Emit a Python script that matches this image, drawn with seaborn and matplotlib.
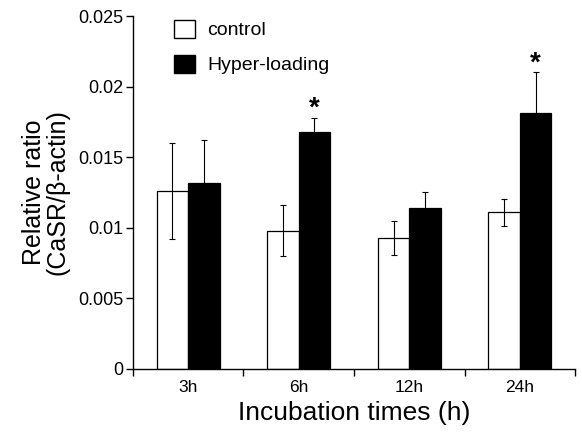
import numpy as np
import pandas as pd
import matplotlib
matplotlib.use("Agg")
import matplotlib.pyplot as plt
import seaborn as sns

# Relative CaSR expression normalised to beta-actin
times = ["3h", "6h", "12h", "24h"]
groups = ["control", "Hyper-loading"]
control_mean = [0.0126, 0.0098, 0.0093, 0.0111]
control_err = [0.0034, 0.0018, 0.0012, 0.00095]
hyper_mean = [0.0132, 0.0168, 0.0114, 0.0181]
hyper_err = [0.0030, 0.0010, 0.0011, 0.0029]
significant = [False, True, False, True]

y_ticks = [0, 0.005, 0.01, 0.015, 0.02, 0.025]
y_tick_labels = ["0", "0.005", "0.01", "0.015", "0.02", "0.025"]

sns.set_style("white")
plt.rcParams["font.family"] = ["Liberation Sans", "DejaVu Sans"]
plt.rcParams.update({"text.color": "black", "axes.labelcolor": "black",
                     "xtick.color": "black", "ytick.color": "black"})

df = pd.DataFrame({
    "time": times * 2,
    "group": [groups[0]] * 4 + [groups[1]] * 4,
    "value": control_mean + hyper_mean,
    "err": control_err + hyper_err,
})

fig = plt.figure(figsize=(5.82, 4.36), dpi=100)
ax = fig.add_axes([0.2285, 0.1537, 0.7595, 0.8096])

sns.barplot(data=df, x="time", y="value", hue="group", order=times,
            hue_order=groups, palette=["white", "black"], width=0.57,
            errorbar=None, edgecolor="black", linewidth=0.9, ax=ax,
            saturation=1)

# error bars placed on the bar centres drawn by seaborn
bars = [p for p in ax.patches if p.get_height() > 0]
bars = sorted(bars, key=lambda p: p.get_x())
for p in bars:
    cx = p.get_x() + p.get_width() / 2
    h = p.get_height()
    row = df[np.isclose(df["value"], h)].iloc[0]
    ax.errorbar(cx, h, yerr=row["err"], fmt="none", ecolor="black",
                elinewidth=0.8, capsize=2.5, capthick=0.8, zorder=3)
    if row["group"] == groups[1] and significant[times.index(row["time"])]:
        ax.annotate("*", (cx, h + row["err"]), xytext=(0, -3),
                    textcoords="offset points", ha="center", va="bottom",
                    fontsize=20, fontweight="bold")

ax.set_xlim(-0.5, 3.5)
ax.set_ylim(0, 0.025)
ax.set_yticks(y_ticks)
ax.set_yticklabels(y_tick_labels, fontsize=13)
ax.set_xticks(range(len(times)))
ax.set_xticklabels(times, fontsize=12.5)
ax.set_xticks(np.arange(-0.5, 3.6, 1.0), minor=True)
ax.tick_params(axis="x", which="major", length=0, pad=8)
ax.tick_params(axis="x", which="minor", length=5, width=1, direction="out",
               bottom=True, color="black")
ax.tick_params(axis="y", length=5, width=1, direction="out", left=True,
               color="black", pad=2)

for s in ["top", "right"]:
    ax.spines[s].set_visible(False)
for s in ["left", "bottom"]:
    ax.spines[s].set_color("black")
    ax.spines[s].set_linewidth(1.0)

ax.set_xlabel("Incubation times (h)", fontsize=19, labelpad=4)
ax.set_ylabel("Relative ratio\n(CaSR/β-actin)", fontsize=18, labelpad=6,
              linespacing=1.0)

leg = ax.legend(loc="upper left", bbox_to_anchor=(0.093, 0.99), frameon=False,
                fontsize=14, handlelength=1.05, handleheight=1.05,
                labelspacing=0.8, handletextpad=0.65, borderpad=0,
                borderaxespad=0)
for h in leg.legend_handles:
    h.set_edgecolor("black")
    h.set_linewidth(1.0)

fig.savefig("out.png", dpi=100)
